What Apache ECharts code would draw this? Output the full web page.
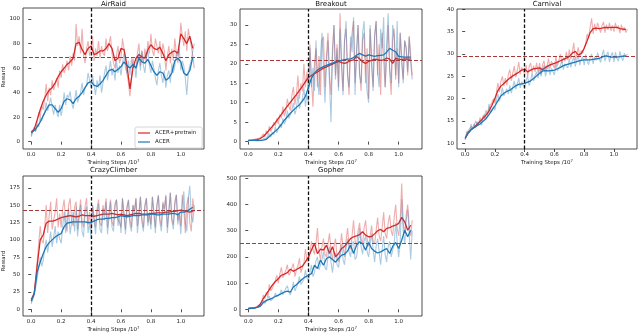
<!DOCTYPE html>
<html><head><meta charset="utf-8">
<script src="https://cdn.jsdelivr.net/npm/echarts@6/dist/echarts.min.js"></script>
<style>html,body{margin:0;padding:0;background:#fff}#c{width:640px;height:334px}</style>
</head><body><div id="c"></div>
<script>
// ---- data ----
const steps = [0,0.02,0.04,0.06,0.08,0.1,0.12,0.14,0.16,0.18,0.2,0.22,0.24,0.26,0.28,0.3,0.32,0.34,0.36,0.38,0.4,0.42,0.44,0.46,0.48,0.5,0.52,0.54,0.56,0.58,0.6,0.62,0.64,0.66,0.68,0.7,0.72,0.74,0.76,0.78,0.8,0.82,0.84,0.86,0.88,0.9,0.92,0.94,0.96,0.98,1.0,1.02,1.04,1.06,1.08];
const rawSteps = [0,0.01,0.02,0.03,0.04,0.05,0.06,0.07,0.08,0.09,
  0.1,0.11,0.12,0.13,0.14,0.15,0.16,0.17,0.18,0.19,
  0.2,0.21,0.22,0.23,0.24,0.25,0.26,0.27,0.28,0.29,
  0.3,0.31,0.32,0.33,0.34,0.35,0.36,0.37,0.38,0.39,
  0.4,0.41,0.42,0.43,0.44,0.45,0.46,0.47,0.48,0.49,
  0.5,0.51,0.52,0.53,0.54,0.55,0.56,0.57,0.58,0.59,
  0.6,0.61,0.62,0.63,0.64,0.65,0.66,0.67,0.68,0.69,
  0.7,0.71,0.72,0.73,0.74,0.75,0.76,0.77,0.78,0.79,
  0.8,0.81,0.82,0.83,0.84,0.85,0.86,0.87,0.88,0.89,
  0.9,0.91,0.92,0.93,0.94,0.95,0.96,0.97,0.98,0.99,
  1.0,1.01,1.02,1.03,1.04,1.05,1.06,1.07,1.08,1.09];
const games = ['AirRaid','Breakout','Carnival','CrazyClimber','Gopher'];
const seriesNames = ['ACER+pretrain','ACER'];

const airRaidPre = [8,10,18,26,33,38,42,44,48,53,57,60,63,65,68,80,81,75,71,76,78,71,72,74,74,76,80,76,66,68,76,75,62,43,60,68,71,69,68,75,79,76,75,77,72,66,71,73,74,72,88,84,80,86,76];
const airRaidBase = [7,9,12,16,21,26,30,30,27,24,27,33,35,34,31,35,37,40,44,48,49,46,45,47,50,54,58,59,57,59,61,65,62,60,63,60,68,65,64,67,62,57,54,57,56,50,52,56,66,68,65,56,54,58,69];
const airRaidPreRaw = [5,9,12,8,16,24,20,30,26,35, 47,33,44,38,50,42,46,52,44,58, 52,63,56,60,66,58,70,62,72,66, 96,78,86,72,92,70,64,76,82,70,
  74,86,66,76,70,82,68,78,72,70, 84,74,80,86,72,64,60,70,78,64, 68,84,76,70,55,48,37,52,68,62, 60,72,80,62,74,64,76,66,82,72,
  88,74,70,84,78,72,82,68,80,74, 58,70,78,64,76,66,84,72,64,78, 97,86,78,90,74,92,84,78,70,60];
const airRaidBaseRaw = [4,8,11,9,14,12,20,17,22,24, 32,25,30,36,28,22,30,24,20,30, 21,28,40,30,38,36,41,32,27,34, 42,32,36,40,48,38,44,46,56,50,
  44,54,46,38,50,44,54,40,48,56, 62,50,58,66,54,60,50,66,56,62, 54,64,72,60,56,66,54,68,60,64, 52,68,72,58,74,62,56,70,74,62,
  56,66,60,52,46,58,64,54,48,58, 44,54,58,48,64,56,62,72,70,76, 58,66,62,52,38,56,62,66,74,80];

const breakoutPre = [0.3,0.3,0.4,0.5,0.8,1.3,2.1,3,3.9,4.9,6,7,8.1,9.1,10.1,11.1,12.1,13.2,14.2,15.4,16.5,17,17.5,17.9,18.4,18.9,19.2,19.6,19.9,20.3,20.6,20.3,20.1,20.4,20.8,21,21.9,21.3,20.5,20.1,20.6,20.9,21.2,21.1,20.9,21,21.5,21.2,20.1,21.4,21.2,21.1,21.3,21.2,21.2];
const breakoutBase = [0.3,0.3,0.3,0.3,0.3,0.4,0.6,1.3,2,2.7,3.4,4.4,5.5,6.4,7.3,8.1,8.8,9.5,10.4,11.6,14,16.3,17.6,18.4,18.9,19.3,19.6,19.9,20.2,20.5,20.7,20.9,21.1,21.2,21.3,21.6,22.2,22.7,22.3,22,22.3,22.1,21.9,22.1,22.2,22.3,23,24,23.5,23.1,21.9,21.8,21.7,21.7,21.7];
const breakoutPreRaw = [0.2,0.4,0.3,0.2,0.6,0.4,0.8,0.5,1,0.6, 2,1.2,2.8,1.8,4,2.6,3.5,5,4,6, 4.5,7,6,9,6.5,8,11,9,8,12, 14,9.5,12,17,11,15,13,20,14,18,
  13,25,16,9,20,24,14,22,12,26, 27,14,22,28,17,12,24,30,16,25, 14,33,20,13,26,29,18,12,24,28, 31,15,22,30,18,13,26,28,15,24,
  11,29,19,14,27,31,17,25,12,28, 28,14,22,30,18,12,26,29,16,24, 15,28,20,16,26,24,17,27,22,17];
const breakoutBaseRaw = [0.2,0.3,0.4,0.2,0.3,0.4,0.2,0.4,0.3,0.5, 0.7,0.4,0.9,0.6,2,1.2,2.4,1.8,3.8,2.2, 2.5,4.6,3.5,6,4.5,5.5,8,6,5.5,8, 10,7,8.5,12,8.5,10,11,14,9,12,
  10,24,14,19,13,26,17,12,22,28, 28,10,20,26,15,5,22,30,17,24, 13,29,20,12,26,31,17,14,27,23, 32,12,24,30,17,15,28,31,19,13,
  10,30,22,13,27,31,18,14,29,24, 32,14,25,33,19,15,30,27,17,31, 14,28,22,15,26,24,18,27,20,16];

const carnivalPre = [11.1,12.2,13,13.6,14.2,14.9,15.6,16.3,17.2,18.5,20.1,21.8,22.8,23.4,24,24.6,25.1,25.5,25.9,26.4,26.6,26,26.4,26.7,26.8,26.9,26.5,27,27.4,27.7,27.9,28.2,28.5,28.8,29.1,29.4,30.2,30.6,29.8,30.1,31.3,33,34.8,35.7,35.8,35.7,35.8,36,35.9,36,36,36,35.7,35.6,35.5];
const carnivalBase = [11.1,12.4,13.1,13.5,13.9,14.3,14.9,15.5,16.4,17.4,18.4,19.5,20.6,21.2,21.6,21.9,22.4,22.9,23.2,23.3,23.4,23.7,24,24.5,25.1,25.7,26.2,26.3,26.2,26.3,26.4,26.7,27,27.4,27.6,27.8,28,28.2,28.4,28.6,28.7,28.7,28.7,28.8,28.9,29,29.3,29.6,29.5,29.3,29.3,29.3,29.4,29.5,29.6];
const carnivalPreRaw = [10.8,12.2,12.8,12.4,13.8,13.2,14.4,13.4,14.8,14.2, 15.8,14.8,16.2,15.4,17.4,16.4,17.8,18.6,19.2,20, 19,21.4,23.5,21.5,23.8,25,22.8,24.6,23,25.4, 26.5,24,25.8,27.3,24.8,26.2,28.2,25.5,27,26.8,
  25.5,27.5,25,27.2,28,25.8,27.4,26,28,25.8, 28,25.4,27.6,28.5,26.3,27.2,29,26.8,28.4,27.6, 26.8,29.5,27.3,28.6,30,28,29.2,28.4,30.5,28.6, 31,28.8,30.4,32.5,28.5,30,31.5,29.4,30.8,30.2,
  30,32.4,34.5,33.5,36,38,34.5,36.8,35.2,37, 37,34.8,36.4,37.2,34.8,36.6,35.4,37,35.2,36.4, 35,37,35.6,36.4,34.7,36.6,35.2,36,34.8,35.6];
const carnivalBaseRaw = [10.8,12.6,13,12.4,14.3,13.1,13.8,15,14.2,14.6, 15,14,15.6,16.6,15.4,16.2,18.8,16.8,17.4,18.2, 17.4,19.6,21,19.4,20.8,22.5,20.6,21.4,22.2,21, 23,21.2,22.6,24,22.1,23.2,24.6,22.4,23.8,23,
  22.4,24.2,25,22.9,24,25.8,24,25.2,26,24.6, 27,25,26.4,27.5,25,26.6,27.4,25.3,26.8,27.2, 25.3,27.9,26.2,25.9,27.4,28.5,26.5,27.8,28.2,26.9, 28.9,27,28.4,29.3,27.2,28.6,29.8,27.5,28.8,29.4,
  27.5,29.9,28.4,27.6,29.2,30,27.8,29.4,28.6,30.3, 30.3,28.1,29.6,31,28.4,29.8,30.5,28.2,29.6,30.4, 28.2,30.4,29,28.4,30.6,29.2,28.5,30.2,29.4,30];

const crazyPre = [14,23,63,100,107,124,127,127,128,130,132,133,134,135,134,133,134,136,135,135,135,134,135,136,137,137,137,138,137,136,137,136,135,136,137,138,138,137,137,137,138,138,139,139,139,140,140,141,141,142,143,142,141,140,141];
const crazyBase = [12,22,54,68,80,90,96,100,104,107,109,119,124,125,126,126,126,126,126,125,125,127,129,130,130,131,131,132,132,133,135,134,133,134,135,135,135,136,136,136,137,137,136,136,137,137,137,138,138,136,140,140,141,144,147];
const crazyPreRaw = [10,16,25,45,70,95,120,100,95,118, 150,110,135,155,115,128,140,160,118,138, 118,145,158,125,112,150,160,128,120,148, 155,115,138,158,126,118,148,160,122,140,
  115,150,132,118,145,158,124,120,150,138, 160,118,140,158,126,120,152,158,130,125, 118,160,136,115,148,157,128,118,150,142, 160,120,138,162,130,118,150,160,125,140,
  122,162,140,118,150,165,130,120,155,145, 163,118,142,168,130,122,155,165,128,140, 120,165,145,110,150,162,125,112,160,140];
const crazyBaseRaw = [8,14,20,32,45,60,75,62,70,88, 100,82,96,112,90,104,120,95,112,102, 95,118,140,110,132,145,108,125,140,112, 148,105,130,150,112,104,140,148,110,125,
  102,150,128,108,140,152,115,110,145,128, 155,108,132,155,118,112,148,158,120,135, 110,160,138,108,145,158,122,112,150,136, 160,110,135,162,125,112,148,160,120,138,
  115,162,138,110,148,163,125,112,152,140, 165,110,140,168,128,115,150,165,122,138, 108,150,170,125,112,160,178,135,125,150];

const gopherPre = [3,4,5,8,20,41,58,75,92,106,117,130,134,140,153,145,152,158,165,181,200,226,251,213,230,226,245,213,239,200,213,232,240,255,270,277,280,285,296,283,277,278,288,300,305,296,309,312,318,321,328,351,334,302,321];
const gopherBase = [3,4,5,7,12,26,34,38,43,49,54,60,66,69,66,85,94,105,116,124,130,136,168,156,188,168,194,200,190,180,194,207,210,222,245,213,245,258,250,226,255,232,222,215,219,226,232,213,240,255,232,264,302,277,302];
const gopherPreRaw = [2,4,5,3,6,4,12,10,18,28, 55,40,65,45,95,70,80,75,110,130, 100,135,160,120,115,150,170,130,140,160, 175,125,150,165,195,140,160,175,230,190,
  180,215,260,230,210,250,310,220,190,240, 270,210,200,250,290,220,190,240,270,200, 180,220,290,240,200,260,310,250,230,280, 340,260,240,300,330,270,250,310,340,270,
  240,280,320,260,250,300,350,280,260,310, 370,290,270,330,360,300,280,350,400,310, 280,340,480,330,290,360,400,320,280,340];
const gopherBaseRaw = [2,3,4,5,5,6,9,8,10,18, 35,22,28,40,50,32,35,45,62,48, 45,58,75,55,62,80,90,65,55,75, 105,70,75,100,125,95,90,115,150,120,
  110,140,170,125,140,185,200,150,150,190, 220,160,150,200,240,180,140,190,215,170, 160,200,250,190,170,230,270,220,200,250, 260,190,200,250,310,240,210,260,280,220,
  200,250,290,230,180,240,270,220,170,230, 280,210,180,240,260,200,200,250,330,260, 200,260,420,300,250,340,380,290,190,300];

const pretrainStep = 0.4;
const humanLevel = [68.5, 21.0, 29.4, 142.8, 252.6];
const xTicks = [0, 0.2, 0.4, 0.6, 0.8, 1.0];
const yTicks = [
  [0,20,40,60,80,100],
  [0,5,10,15,20,25,30],
  [10,15,20,25,30,35,40],
  [0,25,50,75,100,125,150,175],
  [0,100,200,300,400,500]
];
const yRange = [[-6,109],[-1.9,34.1],[8.7,40.1],[-9.7,192],[-25.6,509]];
const xRange = [-0.055, 1.155];

const panels = [
  [airRaidPre, airRaidPreRaw, airRaidBase, airRaidBaseRaw],
  [breakoutPre, breakoutPreRaw, breakoutBase, breakoutBaseRaw],
  [carnivalPre, carnivalPreRaw, carnivalBase, carnivalBaseRaw],
  [crazyPre, crazyPreRaw, crazyBase, crazyBaseRaw],
  [gopherPre, gopherPreRaw, gopherBase, gopherBaseRaw]
];

// ---- layout / style ----
const FONT = 'DejaVu Sans';
const RED = '#d62728', BLUE = '#1f77b4';
const grids = [
  {left:23, top:8, width:181, height:141},
  {left:240, top:9, width:182, height:140},
  {left:457, top:9, width:180, height:140},
  {left:23, top:176, width:181, height:140},
  {left:240, top:176, width:182, height:140}
];
const pairs = (xs, arr) => arr.map((v,i) => [xs[i], v]);

const option = {
  animation: false,
  backgroundColor: '#fff',
  textStyle: {fontFamily: FONT},
  grid: grids.map(g => Object.assign({show:true, borderColor:'#222', borderWidth:0.8, backgroundColor:'transparent'}, g)),
  xAxis: grids.map((g,k) => ({
    type:'value', gridIndex:k, min:xRange[0], max:xRange[1],
    axisLine:{show:false}, splitLine:{show:false},
    axisTick:{show:true, customValues:xTicks, length:3, lineStyle:{color:'#222', width:0.8}},
    axisLabel:{customValues:xTicks, formatter:v=>v.toFixed(1), fontSize:5.5, color:'#222', margin:3, fontFamily:FONT},
    name:'{a|Training Steps /10}{b|7}', nameLocation:'middle', nameGap:10,
    nameTextStyle:{rich:{a:{fontSize:5.5, color:'#222', fontFamily:FONT, lineHeight:7}, b:{fontSize:3.8, color:'#222', fontFamily:FONT, verticalAlign:'top', lineHeight:7}}}
  })),
  yAxis: grids.map((g,k) => ({
    type:'value', gridIndex:k, min:yRange[k][0], max:yRange[k][1],
    axisLine:{show:false}, splitLine:{show:false},
    axisTick:{show:true, customValues:yTicks[k], length:3, lineStyle:{color:'#222', width:0.8}},
    axisLabel:{customValues:yTicks[k], fontSize:5.5, color:'#222', margin:3, fontFamily:FONT}
  })),
  legend: {
    data:[{name:seriesNames[0], itemStyle:{color:RED}}, {name:seriesNames[1], itemStyle:{color:BLUE}}],
    orient:'vertical', left:135, top:127, icon:'rect', itemWidth:12, itemHeight:1.2, itemGap:3,
    textStyle:{fontSize:5.5, color:'#222', fontFamily:FONT},
    borderColor:'#ccc', borderWidth:0.8, borderRadius:2, padding:[3,6,3,3], backgroundColor:'#fff'
  },
  graphic: [],
  series: []
};

panels.forEach((p,k) => {
  option.graphic.push({type:'text', x:grids[k].left + grids[k].width/2, y: k < 3 ? 4 : 170,
    style:{text:games[k], font:'7px "DejaVu Sans"', fill:'#111', align:'center', verticalAlign:'middle'}});
  const base = {type:'line', xAxisIndex:k, yAxisIndex:k, symbol:'none', silent:true};
  option.series.push(Object.assign({}, base, {name:seriesNames[0]+' raw', data:pairs(rawSteps, p[1]), lineStyle:{color:RED, width:1.1, opacity:0.38}, z:2}));
  option.series.push(Object.assign({}, base, {name:seriesNames[0], data:pairs(steps, p[0]), lineStyle:{color:RED, width:1.3}, itemStyle:{color:RED}, z:3}));
  option.series.push(Object.assign({}, base, {name:seriesNames[1]+' raw', data:pairs(rawSteps, p[3]), lineStyle:{color:BLUE, width:1.1, opacity:0.38}, z:4}));
  option.series.push(Object.assign({}, base, {name:seriesNames[1], data:pairs(steps, p[2]), lineStyle:{color:BLUE, width:1.3}, itemStyle:{color:BLUE}, z:5}));
  option.series.push(Object.assign({}, base, {name:'ref'+k, data:[], z:8,
    markLine:{silent:true, symbol:'none', label:{show:false}, animation:false,
      data:[
        {yAxis:humanLevel[k], lineStyle:{color:'#a63a3a', type:[4,2], width:1}},
        {xAxis:pretrainStep, lineStyle:{color:'#111', type:[3.5,2], width:1.3}}
      ]}}));
});
['Reward','Reward'].forEach((t,i) => {
  option.graphic.push({type:'text', x:4, y: i===0 ? 77 : 261, rotation:Math.PI/2,
    style:{text:t, font:'5.5px "DejaVu Sans"', fill:'#222', align:'center', verticalAlign:'middle'}});
});

const chart = echarts.init(document.getElementById('c'), null, {renderer:'canvas'});
chart.setOption(option);
</script>
</body></html>
